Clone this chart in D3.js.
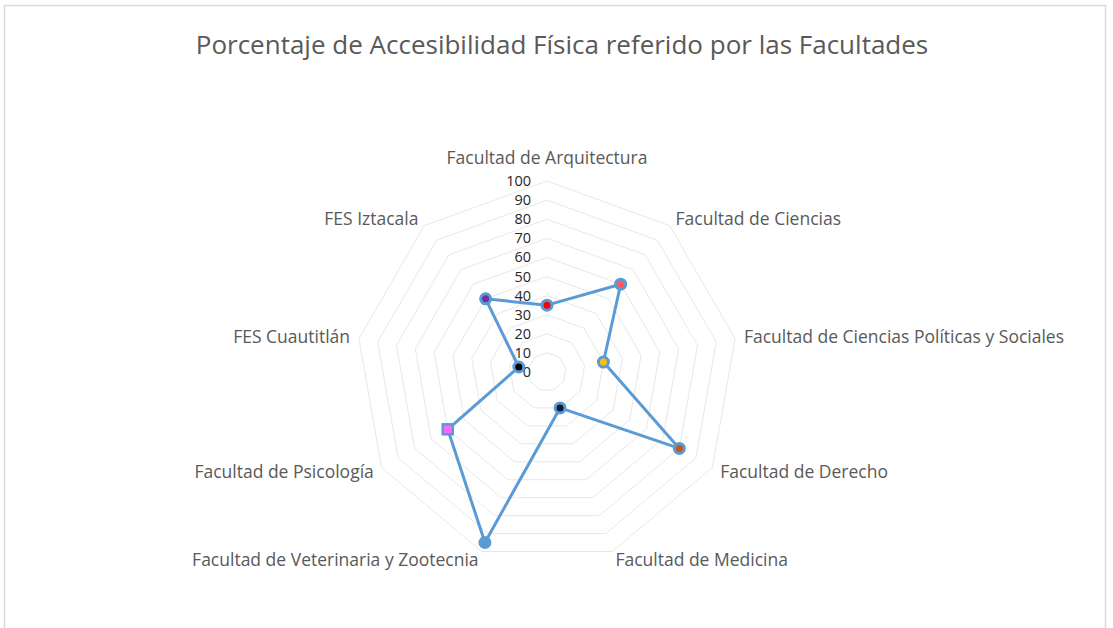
<!DOCTYPE html>
<html>
<head>
<meta charset="utf-8">
<script src="https://cdn.jsdelivr.net/npm/d3@7"></script>
<style>
  body { margin: 0; background: #fff; }
  svg text { font-family: "Open Sans", Lato, sans-serif; }
</style>
</head>
<body>
<div id="chart"></div>
<script>
// categories (clockwise from top)
var categories = [
  "Facultad de Arquitectura",
  "Facultad de Ciencias",
  "Facultad de Ciencias Políticas y Sociales",
  "Facultad de Derecho",
  "Facultad de Medicina",
  "Facultad de Veterinaria y Zootecnia",
  "Facultad de Psicología",
  "FES Cuautitlán",
  "FES Iztacala"
];
// percentage values
var values = [35, 60, 30, 80, 20, 95, 60, 15, 50];
// marker fill for each point
var markerColors = ["#ff0000", "#ff5b5b", "#ffc000", "#c55a11", "#0d1a3a", "#5b9bd5", "#ff66ff", "#000000", "#7030a0"];
var markerShapes = ["circle", "circle", "circle", "circle", "circle", "circle", "square", "circle", "circle"];
var ticks = [0, 10, 20, 30, 40, 50, 60, 70, 80, 90, 100];

var width = 1113, height = 628;
var cx = 547, cy = 372, R = 191;

var svg = d3.select("#chart").append("svg")
  .attr("width", width)
  .attr("height", height);

// chart frame
svg.append("rect")
  .attr("x", 4.5).attr("y", 5.5)
  .attr("width", 1101).attr("height", 640)
  .style("fill", "none")
  .style("stroke", "#d9d9d9")
  .style("stroke-width", "1.5px");

// title
svg.append("text")
  .attr("x", 562).attr("y", 54)
  .style("text-anchor", "middle")
  .style("font-size", "26px")
  .style("fill", "#595959")
  .text("Porcentaje de Accesibilidad Física referido por las Facultades");

var r = d3.scaleLinear().domain([0, 100]).range([0, R]);
var angle = d3.scalePoint().domain(d3.range(categories.length + 1)).range([0, 2 * Math.PI]);

function pt(i, v) {
  var a = angle(i);
  return [cx + Math.sin(a) * r(v), cy - Math.cos(a) * r(v)];
}

var g = svg.append("g");

// spider gridlines
g.selectAll(".ring")
  .data(ticks.slice(1))
  .enter().append("polygon")
  .attr("class", "ring")
  .attr("points", function(t) {
    return categories.map(function(c, i) { return pt(i, t).join(","); }).join(" ");
  })
  .style("fill", "none")
  .style("stroke", "#e8e8e8")
  .style("stroke-width", "1px");

// value axis labels
g.selectAll(".tick")
  .data(ticks)
  .enter().append("text")
  .attr("class", "tick")
  .attr("x", cx - 16)
  .attr("y", function(t) { return cy - r(t); })
  .attr("dy", "0.35em")
  .style("text-anchor", "end")
  .style("font-size", "14.5px")
  .style("fill", "#262626")
  .text(function(t) { return t; });

// category labels
g.selectAll(".cat")
  .data(categories)
  .enter().append("text")
  .attr("class", "cat")
  .attr("x", function(d, i) { return pt(i, 100)[0] + Math.sin(angle(i)) * 9; })
  .attr("y", function(d, i) {
    if (i === 0) return cy - R - 17;
    return pt(i, 100)[1] - Math.cos(angle(i)) * 9;
  })
  .attr("dy", function(d, i) { return i === 0 ? "0em" : "0.35em"; })
  .style("text-anchor", function(d, i) {
    var s = Math.sin(angle(i));
    return Math.abs(s) < 0.01 ? "middle" : (s > 0 ? "start" : "end");
  })
  .style("font-size", "17.5px")
  .style("fill", "#595959")
  .text(function(d) { return d; });

// series line
var line = d3.line()
  .x(function(d, i) { return pt(i, d)[0]; })
  .y(function(d, i) { return pt(i, d)[1]; })
  .curve(d3.curveLinearClosed);

g.append("path")
  .datum(values)
  .attr("d", line)
  .style("fill", "none")
  .style("stroke", "#5b9bd5")
  .style("stroke-width", "3px")
  .style("stroke-linejoin", "round");

// markers
values.forEach(function(v, i) {
  var p = pt(i, v);
  if (markerShapes[i] === "square") {
    g.append("rect")
      .attr("x", p[0] - 5).attr("y", p[1] - 5)
      .attr("width", 10).attr("height", 10)
      .style("fill", markerColors[i])
      .style("stroke", "#5b9bd5")
      .style("stroke-width", "2.5px");
  } else {
    g.append("circle")
      .attr("cx", p[0]).attr("cy", p[1])
      .attr("r", 5)
      .style("fill", markerColors[i])
      .style("stroke", "#5b9bd5")
      .style("stroke-width", "3px");
  }
});
</script>
</body>
</html>
